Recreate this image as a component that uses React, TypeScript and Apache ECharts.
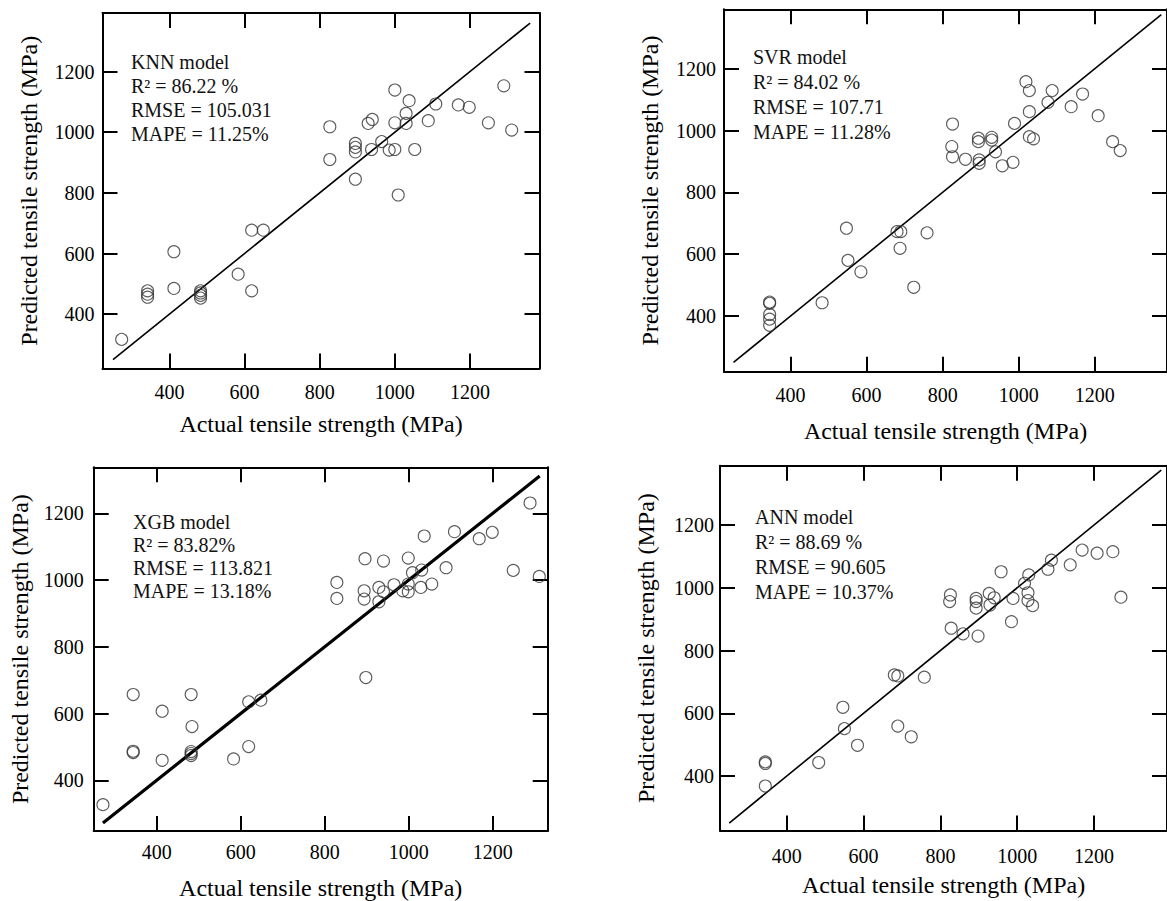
import React, { useEffect, useRef } from 'react';
import * as echarts from 'echarts';

// ---------------- DATA ----------------
const tickValues = [400, 600, 800, 1000, 1200];

const knnActual = [273, 342, 342, 342, 412, 412, 483, 483, 483, 483, 583, 619, 619, 650, 827, 827, 895, 895, 895, 895, 929, 940, 938, 965, 985, 1000, 1000, 1000, 1009, 1030, 1030, 1038, 1053, 1089, 1109, 1169, 1198, 1249, 1290, 1311];
const knnPredicted = [317, 477, 466, 456, 606, 485, 477, 470, 462, 453, 532, 477, 677, 677, 1018, 910, 963, 950, 935, 845, 1029, 1042, 943, 969, 941, 943, 1139, 1031, 793, 1062, 1029, 1104, 943, 1038, 1093, 1090, 1082, 1031, 1153, 1007];

const svrActual = [345, 345, 345, 345, 345, 483, 547, 551, 585, 680, 690, 688, 724, 759, 826, 824, 826, 860, 894, 894, 896, 896, 929, 929, 939, 957, 985, 989, 1019, 1028, 1028, 1028, 1039, 1077, 1088, 1138, 1168, 1209, 1247, 1267];
const svrPredicted = [445, 441, 405, 390, 370, 443, 684, 580, 543, 673, 673, 619, 493, 669, 1021, 948, 915, 907, 975, 964, 905, 894, 978, 969, 931, 886, 897, 1023, 1158, 1129, 1061, 980, 973, 1091, 1129, 1077, 1118, 1048, 964, 935];

const xgbActual = [272, 344, 344, 344, 413, 413, 482, 484, 482, 482, 482, 583, 619, 619, 648, 829, 829, 896, 894, 894, 898, 929, 929, 940, 940, 965, 986, 999, 999, 999, 1009, 1029, 1031, 1037, 1055, 1089, 1109, 1168, 1199, 1249, 1289, 1311];
const xgbPredicted = [327, 657, 487, 483, 607, 460, 657, 561, 486, 480, 474, 464, 501, 635, 640, 993, 945, 1064, 968, 943, 708, 978, 935, 1057, 965, 986, 968, 1066, 988, 965, 1022, 978, 1030, 1132, 988, 1037, 1145, 1124, 1143, 1029, 1231, 1011];

const annActual = [344, 344, 344, 483, 546, 550, 584, 680, 689, 689, 724, 758, 826, 824, 828, 859, 893, 893, 893, 898, 927, 940, 929, 958, 985, 989, 1019, 1028, 1028, 1030, 1040, 1080, 1089, 1138, 1169, 1208, 1249, 1270];
const annPredicted = [445, 440, 368, 443, 619, 551, 498, 722, 719, 559, 525, 715, 977, 956, 871, 853, 966, 956, 935, 846, 982, 968, 945, 1051, 892, 966, 1014, 984, 959, 1041, 943, 1059, 1088, 1073, 1120, 1110, 1115, 970];

// y = x reference line end points
const knnLine = [250, 1360];
const svrLine = [250, 1375];
const xgbLine = [272, 1312];
const annLine = [250, 1375];

const knnStats = ['KNN model', 'R² = 86.22 %', 'RMSE = 105.031', 'MAPE = 11.25%'];
const svrStats = ['SVR model', 'R² = 84.02 %', 'RMSE = 107.71', 'MAPE = 11.28%'];
const xgbStats = ['XGB model', 'R² = 83.82%', 'RMSE = 113.821', 'MAPE = 13.18%'];
const annStats = ['ANN model', 'R² = 88.69 %', 'RMSE = 90.605', 'MAPE = 10.37%'];

const xTitle = 'Actual tensile strength (MPa)';
const yTitle = 'Predicted tensile strength (MPa)';

// ---------------- LAYOUT ----------------
const FONT = 'Liberation Serif';

const layouts = [
  { left: 102.5, top: 13, width: 437, height: 355.5, xMin: 222, xMax: 1385, yMin: 221, yMax: 1393, lw: 1.6, tl: 131, tt: 50, lh: 24, xGap: 43, yGap: 62, xm: 13, ym: 8 },
  { left: 724, top: 9.3, width: 451.4, height: 362.4, xMin: 225, xMax: 1390, yMin: 220, yMax: 1392, lw: 1.6, tl: 753, tt: 44, lh: 25, xGap: 47, yGap: 62, xm: 13, ym: 8 },
  { left: 93.7, top: 467.3, width: 454, height: 366, xMin: 250, xMax: 1331, yMin: 248, yMax: 1338, lw: 3.2, tl: 133, tt: 510, lh: 23, xGap: 45, yGap: 62, xm: 11, ym: 10 },
  { left: 720, top: 465.7, width: 460.8, height: 364.9, xMin: 226, xMax: 1390, yMin: 226, yMax: 1389, lw: 1.6, tl: 755, tt: 504, lh: 25, xGap: 42, yGap: 62, xm: 15, ym: 6 },
];

const panels = [
  { actual: knnActual, predicted: knnPredicted, line: knnLine, stats: knnStats },
  { actual: svrActual, predicted: svrPredicted, line: svrLine, stats: svrStats },
  { actual: xgbActual, predicted: xgbPredicted, line: xgbLine, stats: xgbStats },
  { actual: annActual, predicted: annPredicted, line: annLine, stats: annStats },
];

function buildOption() {
  const grid: any[] = [];
  const xAxis: any[] = [];
  const yAxis: any[] = [];
  const series: any[] = [];
  const graphic: any[] = [];

  const lineStyle = { color: '#000', width: 2 };
  const tick = { show: true, inside: true, length: 15, customValues: tickValues, lineStyle: { color: '#000', width: 2 } };
  const fmt = (v: number) => String(Math.round(v));

  panels.forEach((p, i) => {
    const L = layouts[i];
    grid.push({ left: L.left, top: L.top, width: L.width, height: L.height, containLabel: false });
    const labelStyle = { color: '#000', fontSize: 20, fontFamily: FONT, formatter: fmt };
    xAxis.push({
      gridIndex: i, type: 'value', min: L.xMin, max: L.xMax, position: 'bottom',
      name: xTitle, nameLocation: 'middle', nameGap: L.xGap,
      nameTextStyle: { color: '#000', fontSize: 24, fontFamily: FONT },
      axisLine: { show: true, onZero: false, lineStyle },
      axisTick: tick,
      axisLabel: { ...labelStyle, customValues: tickValues, margin: L.xm },
      splitLine: { show: false },
    });
    xAxis.push({
      gridIndex: i, type: 'value', min: L.xMin, max: L.xMax, position: 'top',
      axisLine: { show: true, onZero: false, lineStyle },
      axisTick: tick,
      axisLabel: { show: false },
      splitLine: { show: false },
    });
    yAxis.push({
      gridIndex: i, type: 'value', min: L.yMin, max: L.yMax, position: 'left',
      name: yTitle, nameLocation: 'middle', nameGap: L.yGap, nameRotate: 90,
      nameTextStyle: { color: '#000', fontSize: 24, fontFamily: FONT },
      axisLine: { show: true, onZero: false, lineStyle },
      axisTick: tick,
      axisLabel: { ...labelStyle, customValues: tickValues, margin: L.ym },
      splitLine: { show: false },
    });
    yAxis.push({
      gridIndex: i, type: 'value', min: L.yMin, max: L.yMax, position: 'right',
      axisLine: { show: true, onZero: false, lineStyle },
      axisTick: tick,
      axisLabel: { show: false },
      splitLine: { show: false },
    });
    series.push({
      type: 'line', xAxisIndex: 2 * i, yAxisIndex: 2 * i,
      data: p.line.map((v) => [v, v]), symbol: 'none', silent: true,
      lineStyle: { color: '#000', width: L.lw }, z: 2,
    });
    series.push({
      type: 'scatter', xAxisIndex: 2 * i, yAxisIndex: 2 * i,
      data: p.actual.map((a, k) => [a, p.predicted[k]]),
      symbol: 'circle', symbolSize: 12,
      itemStyle: { color: 'rgba(0,0,0,0)', borderColor: '#333', borderWidth: 1.1 },
      z: 3,
    });
    graphic.push({
      type: 'text', left: L.tl, top: L.tt,
      style: { text: p.stats.join('\n'), fontSize: 20, fontFamily: FONT, lineHeight: L.lh, fill: '#111' },
    });
  });

  return { animation: false, backgroundColor: '#fff', textStyle: { fontFamily: FONT }, grid, xAxis, yAxis, series, graphic };
}

export default function App() {
  const ref = useRef<HTMLDivElement>(null);
  useEffect(() => {
    if (!ref.current) return;
    const chart = echarts.init(ref.current, undefined, { renderer: 'svg' });
    chart.setOption(buildOption() as any);
    return () => chart.dispose();
  }, []);
  return <div ref={ref} style={{ position: 'absolute', left: 0, top: 0, width: 1167, height: 901, background: '#fff' }} />;
}
